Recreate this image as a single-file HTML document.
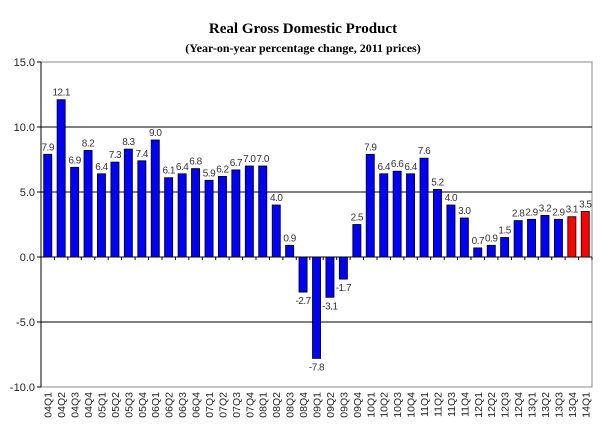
<!DOCTYPE html>
<html><head><meta charset="utf-8"><style>body{margin:0;background:#fff}svg{display:block}</style></head><body>
<svg id="s" width="607" height="442" xmlns="http://www.w3.org/2000/svg" font-family="Liberation Sans, sans-serif">
<text x="303" y="33" text-anchor="middle" font-family="Liberation Serif, serif" font-weight="bold" font-size="15">Real Gross Domestic Product</text>
<text x="303" y="52" text-anchor="middle" font-family="Liberation Serif, serif" font-weight="bold" font-size="12">(Year-on-year percentage change, 2011 prices)</text>
<g id="g"></g>
</svg>
<script>
var v=[7.9,12.1,6.9,8.2,6.4,7.3,8.3,7.4,9.0,6.1,6.4,6.8,5.9,6.2,6.7,7.0,7.0,4.0,0.9,-2.7,-7.8,-3.1,-1.7,2.5,7.9,6.4,6.6,6.4,7.6,5.2,4.0,3.0,0.7,0.9,1.5,2.8,2.9,3.2,2.9,3.1,3.5];
var L=41,R=592,T=62,B=387,z=257,k=13,n=v.length,w=(R-L)/n,h='';
h+='<rect x="'+L+'" y="'+T+'" width="'+(R-L)+'" height="'+(B-T)+'" fill="#fff" stroke="#888"/>';
[10,5,0,-5].forEach(function(t){var y=z-t*k;h+='<line x1="'+L+'" x2="'+R+'" y1="'+y+'" y2="'+y+'" stroke="#000"/>';});
h+='<line x1="'+L+'" x2="'+L+'" y1="'+T+'" y2="'+B+'" stroke="#000"/>';
[15,10,5,0,-5,-10].forEach(function(t){var y=z-t*k;h+='<line x1="'+(L-4)+'" x2="'+L+'" y1="'+y+'" y2="'+y+'" stroke="#000"/><text x="'+(L-6)+'" y="'+(y+4)+'" text-anchor="end" font-size="11" fill="#222">'+t.toFixed(1)+'</text>';});
for(var i=0;i<n;i++){
 var x=L+i*w,bx=x+w*0.2,bw=w*0.6,val=v[i],y0=val>=0?z-val*k:z,hh=Math.abs(val)*k;
 var yr=Math.floor(4+i/4),q=i%4+1,lab=(yr<10?'0':'')+yr+'Q'+q;
 h+='<rect x="'+bx.toFixed(1)+'" y="'+y0.toFixed(1)+'" width="'+bw.toFixed(1)+'" height="'+hh.toFixed(1)+'" fill="'+(i>=39?'#f00':'#00f')+'" stroke="#000" stroke-width="0.8"/>';
 h+='<line x1="'+(x+w).toFixed(1)+'" x2="'+(x+w).toFixed(1)+'" y1="'+z+'" y2="'+(z+3)+'" stroke="#000"/>';
 var ly=val>=0?y0-4:z+hh+12;
 h+='<text x="'+(x+w/2).toFixed(1)+'" y="'+ly.toFixed(1)+'" text-anchor="middle" font-size="10" fill="#333" letter-spacing="-0.5">'+val.toFixed(1)+'</text>';
 h+='<text transform="translate('+(x+w/2+4).toFixed(1)+',392) rotate(-90)" text-anchor="end" font-size="10.5" fill="#222">'+lab+'</text>';
}
document.getElementById('g').innerHTML=h;
</script>
</body></html>
